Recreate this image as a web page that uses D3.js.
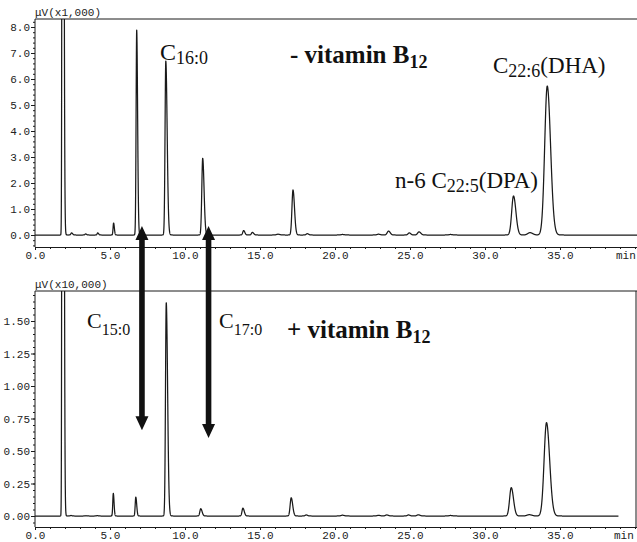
<!DOCTYPE html>
<html><head><meta charset="utf-8">
<script src="https://cdn.jsdelivr.net/npm/d3@7"></script>
<style>body{margin:0;background:#fff}svg{display:block}</style>
</head><body><svg id="c" width="637" height="542"></svg>
<script>
// ---------- data ----------
const timeDomain = [0, 40];
const xTicks = [0, 5, 10, 15, 20, 25, 30, 35];
const topYTicks = [0, 1, 2, 3, 4, 5, 6, 7, 8];
const botYTicks = [0, 0.25, 0.5, 0.75, 1.0, 1.25, 1.5];
const topUnit = "μV(x1,000)";
const botUnit = "μV(x10,000)";

// - vitamin B12 : peak retention times (min), heights (x1,000 μV), left/right widths (min)
const topRT   = [1.84, 2.44, 3.38, 4.18, 5.24, 6.78, 8.72, 11.18, 13.91, 14.49, 16.2, 17.2, 18.15, 20.5, 22.9, 23.57, 24.95, 25.6, 27.7, 31.9, 33.0, 34.15];
const topH    = [60, 0.08, 0.04, 0.08, 0.46, 7.88, 6.69, 2.95, 0.17, 0.10, 0.03, 1.73, 0.05, 0.02, 0.03, 0.15, 0.08, 0.12, 0.02, 1.50, 0.09, 5.73];
const topSigL = [0.03, 0.05, 0.05, 0.04, 0.035, 0.04, 0.05, 0.06, 0.06, 0.06, 0.1, 0.07, 0.07, 0.1, 0.1, 0.09, 0.08, 0.09, 0.1, 0.12, 0.15, 0.17];
const topSigR = [0.06, 0.07, 0.06, 0.06, 0.05, 0.06, 0.09, 0.09, 0.08, 0.09, 0.12, 0.1, 0.09, 0.12, 0.12, 0.11, 0.1, 0.12, 0.12, 0.16, 0.18, 0.22];

// + vitamin B12 : heights (x10,000 μV)
const botRT   = [1.84, 2.4, 3.4, 4.15, 5.22, 6.72, 8.75, 11.05, 13.86, 17.08, 18.08, 20.5, 22.9, 23.45, 24.9, 25.55, 27.7, 31.75, 32.95, 34.1];
const botH    = [20, 0.004, 0.002, 0.003, 0.174, 0.145, 1.64, 0.056, 0.06, 0.14, 0.008, 0.006, 0.005, 0.008, 0.008, 0.009, 0.004, 0.218, 0.01, 0.718];
const botSigL = [0.03, 0.05, 0.05, 0.05, 0.035, 0.04, 0.05, 0.06, 0.06, 0.07, 0.07, 0.1, 0.1, 0.09, 0.08, 0.09, 0.1, 0.11, 0.15, 0.16];
const botSigR = [0.06, 0.06, 0.06, 0.06, 0.05, 0.06, 0.09, 0.09, 0.09, 0.1, 0.09, 0.12, 0.12, 0.11, 0.1, 0.12, 0.12, 0.15, 0.18, 0.21];

// arrows: x position (min), tip value in top panel, tip value in bottom panel
const arrowX    = [7.13, 11.57];
const arrowTopV = [0.35, 0.35];
const arrowBotV = [0.66, 0.60];

// ---------- drawing ----------
const svg = d3.select("#c");
const serif = "'Liberation Serif','Times New Roman',serif";
const mono = "'Liberation Mono','DejaVu Sans Mono',monospace";
const ink = "#1a1a1a";

const xTop = d3.scaleLinear().domain(timeDomain).range([35, 635]);
const xBot = d3.scaleLinear().domain(timeDomain).range([35, 635]);
const yTop = d3.scaleLinear().domain([0, 8]).range([235, 27]);
const yBot = d3.scaleLinear().domain([0, 1.5]).range([516, 321]);

function trace(rt, h, sl, sr, t0, t1) {
  const pts = [];
  for (let t = t0; t <= t1; t += 0.004) {
    let v = 0;
    for (let i = 0; i < rt.length; i++) {
      const d = t - rt[i];
      const s = d < 0 ? sl[i] : sr[i];
      if (Math.abs(d) < 8 * s) v += h[i] * Math.exp(-0.5 * (d / s) * (d / s));
    }
    pts.push([t, v]);
  }
  return pts;
}

function panel(cfg) {
  const g = svg.append("g");
  const {x, y, left, right, top, bottom, id} = cfg;
  svg.append("clipPath").attr("id", id).append("rect")
    .attr("x", left).attr("y", top).attr("width", right - left).attr("height", bottom - top);

  g.append("line").attr("x1", left).attr("x2", right + 5).attr("y1", top).attr("y2", top)
    .attr("stroke", ink).attr("stroke-width", 1);
  g.append("line").attr("x1", left).attr("x2", left).attr("y1", top).attr("y2", bottom)
    .attr("stroke", ink).attr("stroke-width", 1);
  if (cfg.rightBorder) g.append("line").attr("x1", right).attr("x2", right).attr("y1", top).attr("y2", bottom)
    .attr("stroke", ink).attr("stroke-width", 1);

  const ya = g.append("g").attr("transform", `translate(${left},0)`)
    .call(d3.axisLeft(y).tickValues(cfg.yTicks).tickFormat(d3.format(cfg.yFmt)).tickSize(4).tickPadding(1));
  const ym = g.append("g").attr("transform", `translate(${left},0)`)
    .call(d3.axisLeft(y).tickValues(d3.range(cfg.yMinorStart, cfg.yMinorEnd + 1e-9, cfg.yMinorStep)).tickFormat("").tickSize(2));
  ym.select(".domain").remove();
  ya.select(".domain").remove();

  const xa = g.append("g").attr("transform", `translate(0,${bottom})`)
    .call(d3.axisBottom(x).tickValues(xTicks).tickFormat(d3.format(".1f")).tickSize(3).tickPadding(1));
  const xm = g.append("g").attr("transform", `translate(0,${bottom})`)
    .call(d3.axisBottom(x).tickValues(d3.range(0, 41, 1)).tickFormat("").tickSize(2));
  xa.select(".domain").attr("d", `M${left},0.5H${right + 5}`);
  xm.select(".domain").remove();
  [ya, ym, xa, xm].forEach(a => {
    a.selectAll("line").attr("stroke", ink);
    a.selectAll("path").attr("stroke", ink);
    a.selectAll("text").attr("font-family", mono).attr("font-size", 11).attr("fill", "#222");
  });

  g.append("text").attr("x", cfg.minX).attr("y", bottom + 12).attr("font-family", mono)
    .attr("font-size", 11).attr("fill", "#222").text("min");
  g.append("text").attr("x", left).attr("y", top - 3).attr("font-family", mono)
    .attr("font-size", 11).attr("fill", "#222").text(cfg.unit);

  const line = d3.line().x(d => x(d[0])).y(d => y(d[1]));
  g.append("path").attr("clip-path", `url(#${id})`)
    .attr("d", line(cfg.data)).attr("fill", "none").attr("stroke", ink)
    .attr("stroke-width", 1.25).attr("stroke-linejoin", "round");
}

panel({id: "cpTop", x: xTop, y: yTop, left: 35, right: 645, top: 19, bottom: 247,
  yTicks: topYTicks, yFmt: ".1f", yMinorStart: -0.4, yMinorEnd: 8.2, yMinorStep: 0.2,
  unit: topUnit, minX: 616, rightBorder: false,
  data: trace(topRT, topH, topSigL, topSigR, 0, 40.5)});
panel({id: "cpBot", x: xBot, y: yBot, left: 35, right: 636, top: 291, bottom: 527,
  yTicks: botYTicks, yFmt: ".2f", yMinorStart: -0.05, yMinorEnd: 1.7, yMinorStep: 0.05,
  unit: botUnit, minX: 614, rightBorder: true,
  data: trace(botRT, botH, botSigL, botSigR, 0, 38.9)});

const ag = svg.append("g").attr("fill", "#111");
arrowX.forEach((t, i) => {
  const cx = xTop(t), y0 = yTop(arrowTopV[i]), y1 = yBot(arrowBotV[i]);
  const sw = 2.8, hw = 6.5, hl = 14;
  const p = `M${cx},${y0} L${cx + hw},${y0 + hl} L${cx + sw},${y0 + hl} L${cx + sw},${y1 - hl} L${cx + hw},${y1 - hl}
    L${cx},${y1} L${cx - hw},${y1 - hl} L${cx - sw},${y1 - hl} L${cx - sw},${y0 + hl} L${cx - hw},${y0 + hl} Z`;
  ag.append("path").attr("d", p);
});

function label(x, y, parts, size, subSize, weight, dy) {
  const t = svg.append("text").attr("x", x).attr("y", y).attr("font-family", serif)
    .attr("font-size", size).attr("font-weight", weight || "normal").attr("fill", "#111");
  parts.forEach(p => {
    const s = t.append("tspan").text(p[0]);
    if (p[1] === "sub") s.attr("font-size", subSize).attr("dy", dy);
    else if (p[1] === "up") s.attr("dy", -dy);
  });
}
label(160, 60, [["C"], ["16:0", "sub"]], 24, 18, "normal", 4);
label(493, 73, [["C"], ["22:6", "sub"], ["(DHA)", "up"]], 23, 18, "normal", 4);
label(395, 188, [["n-6 C"], ["22:5", "sub"], ["(DPA)", "up"]], 23, 18, "normal", 4);
label(290, 63, [["- vitamin B"], ["12", "sub"]], 25, 18, "bold", 5);
label(87, 328, [["C"], ["15:0", "sub"]], 22, 16, "normal", 7);
label(219, 328, [["C"], ["17:0", "sub"]], 22, 16, "normal", 7);
label(287, 338, [["+ vitamin B"], ["12", "sub"]], 25, 18, "bold", 5);
</script></body></html>
